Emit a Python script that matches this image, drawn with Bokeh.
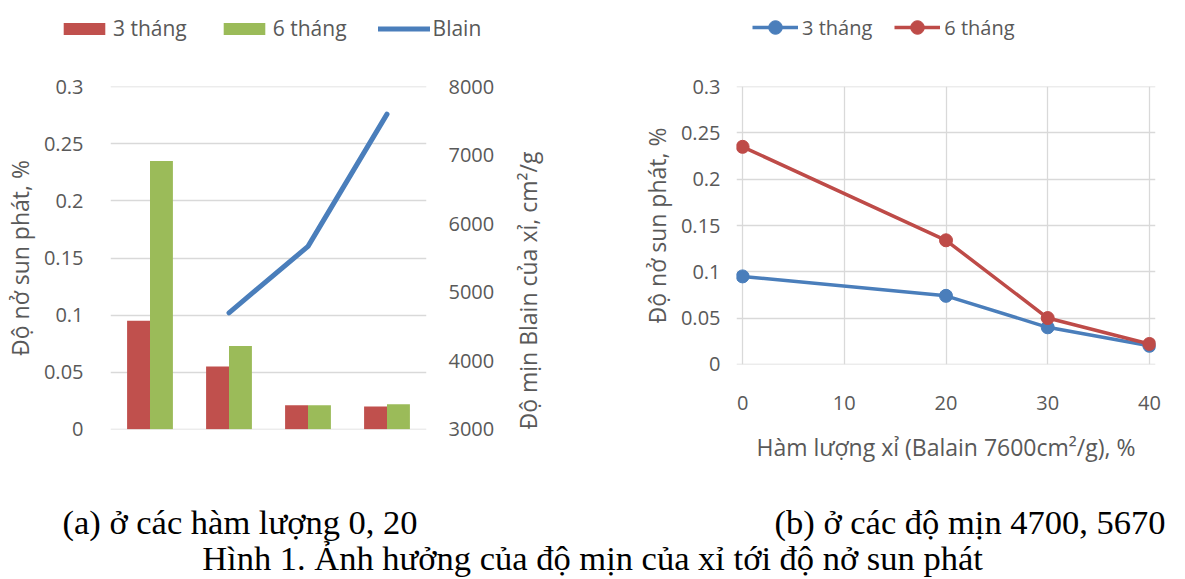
from math import pi
from bokeh.plotting import figure
from bokeh.models import (Range1d, LinearAxis, FixedTicker, CustomJSTickFormatter,
                          Legend, LegendItem, Label, ColumnDataSource)
from bokeh.layouts import column, row
from bokeh.embed import file_html
from bokeh.resources import INLINE
from bokeh.transform import dodge

# ---------------- data ----------------
group_pos = [1, 2, 3, 4]                     # four mixes in chart (a)
exp_3m_a = [0.095, 0.055, 0.021, 0.020]      # 3 tháng
exp_6m_a = [0.235, 0.073, 0.021, 0.022]      # 6 tháng
blain_pos = [2, 3, 4]
blain = [4700, 5670, 7600]                   # Blain, cm2/g

slag = [0, 20, 30, 40]                       # chart (b) x values
exp_3m_b = [0.095, 0.074, 0.040, 0.020]
exp_6m_b = [0.235, 0.134, 0.050, 0.022]

y_ticks = [0, 0.05, 0.1, 0.15, 0.2, 0.25, 0.3]
blain_ticks = [3000, 4000, 5000, 6000, 7000, 8000]
x_ticks_b = [0, 10, 20, 30, 40]

label_3m = "3 tháng"
label_6m = "6 tháng"
label_blain = "Blain"
y_title = "Độ nở sun phát, %"
y2_title = "Độ mịn Blain của xỉ, cm²/g"
x_title_b = "Hàm lượng xỉ (Balain 7600cm²/g), %"
cap_a = "(a) ở các hàm lượng 0, 20"
cap_b = "(b) ở các độ mịn 4700, 5670"
cap_fig = "Hình 1. Ảnh hưởng của độ mịn của xỉ tới độ nở sun phát"

# ---------------- style ----------------
FONT = "Open Sans"
FS = "20px"
FS_T = "23px"
GREY = "#595959"
GRID = "#d9d9d9"
RED = "#c0504d"
GREEN = "#9bbb59"
BLUE = "#4a7ebb"
RED2 = "#be4b48"
EPS = 0.0002  # tiny pad so edge grid lines are drawn
LH = 50       # height of the legend strip
CH = 80       # height of the caption strip

fmt = CustomJSTickFormatter(code="return String(Math.round(tick*100)/100);")


def style_axis(ax, standoff):
    ax.axis_line_color = None
    ax.major_tick_line_color = None
    ax.minor_tick_line_color = None
    ax.major_tick_out = 0
    ax.major_tick_in = 0
    ax.minor_tick_out = 0
    ax.minor_tick_in = 0
    ax.major_label_text_font = FONT
    ax.major_label_text_font_size = FS
    ax.major_label_text_color = GREY
    ax.major_label_standoff = standoff
    ax.axis_label_text_font = FONT
    ax.axis_label_text_font_size = FS_T
    ax.axis_label_text_color = GREY
    ax.axis_label_text_font_style = "normal"


def style_legend(leg, size):
    leg.label_text_font = FONT
    leg.label_text_font_size = size
    leg.label_text_color = GREY
    leg.padding = 0
    leg.margin = 0
    leg.border_line_color = None
    leg.background_fill_alpha = 0
    leg.orientation = "horizontal"


def bare(fig):
    fig.axis.visible = False
    fig.grid.visible = False
    fig.frame_align = False


# ---------------- chart (a) ----------------
pa = figure(width=598, height=498 - LH, x_range=Range1d(0.5, 4.5),
            y_range=Range1d(-EPS, 0.3 + EPS),
            output_backend="svg", toolbar_location=None,
            min_border_left=105, min_border_right=172, min_border_top=86 - LH,
            min_border_bottom=69, outline_line_color=None)
pa.frame_align = False
k = 5000 / 0.3
pa.extra_y_ranges = {"blain": Range1d(3000 - EPS * k, 8000 + EPS * k)}

src = ColumnDataSource(dict(x=group_pos, m3=exp_3m_a, m6=exp_6m_a))
pa.vbar(x=dodge("x", -0.145), top="m3", width=0.29, source=src,
        fill_color=RED, line_color=None)
pa.vbar(x=dodge("x", 0.145), top="m6", width=0.29, source=src,
        fill_color=GREEN, line_color=None)
pa.line(blain_pos, blain, y_range_name="blain", line_width=5, line_color=BLUE,
        line_cap="round", line_join="round")

pa.xaxis.visible = False
pa.xgrid.visible = False
pa.ygrid.ticker = FixedTicker(ticks=y_ticks)
pa.ygrid.grid_line_color = GRID
pa.ygrid.grid_line_width = 1.3

ya = pa.yaxis[0]
ya.ticker = FixedTicker(ticks=y_ticks)
ya.formatter = fmt
style_axis(ya, 27)
ya.axis_label = y_title
ya.axis_label_standoff = 5

ax2 = LinearAxis(y_range_name="blain", ticker=FixedTicker(ticks=blain_ticks))
style_axis(ax2, 22)
ax2.axis_label = y2_title
ax2.axis_label_standoff = 31
try:
    ax2.axis_label_orientation = pi / 2
except Exception:
    pass
try:
    ax2.axis_label_align = "start"
except Exception:
    pass
pa.add_layout(ax2, "right")

# ---------------- chart (b) ----------------
XPAD = 0.6
pb = figure(width=585, height=498 - LH, x_range=Range1d(-XPAD, 40 + XPAD),
            y_range=Range1d(-EPS, 0.3 + EPS),
            output_backend="svg", toolbar_location=None,
            min_border_left=138, min_border_right=28, min_border_top=86 - LH,
            min_border_bottom=134, outline_line_color=None)
pb.frame_align = False

pb.line(slag, exp_3m_b, line_width=3.5, line_color=BLUE)
pb.scatter(slag, exp_3m_b, size=13, fill_color=BLUE, line_color=BLUE)
pb.line(slag, exp_6m_b, line_width=3.5, line_color=RED2)
pb.scatter(slag, exp_6m_b, size=13, fill_color=RED2, line_color=RED2)

pb.xgrid.ticker = FixedTicker(ticks=x_ticks_b)
pb.ygrid.ticker = FixedTicker(ticks=y_ticks)
for g in (pb.xgrid[0], pb.ygrid[0]):
    g.grid_line_color = GRID
    g.grid_line_width = 1.3

xb = pb.xaxis[0]
xb.ticker = FixedTicker(ticks=x_ticks_b)
style_axis(xb, 31)
xb.axis_label = x_title_b
xb.axis_label_standoff = 18

yb = pb.yaxis[0]
yb.ticker = FixedTicker(ticks=y_ticks)
yb.formatter = fmt
style_axis(yb, 16)
yb.axis_label = y_title
yb.axis_label_standoff = 5

# ---------------- legend strip ----------------
# the key renderers hold the series' first points; the strip's ranges keep
# them out of view, so only the legend keys are seen
lf = figure(width=1183, height=LH, x_range=Range1d(-3, -2), y_range=Range1d(-3, -2),
            output_backend="svg", toolbar_location=None, min_border=0,
            outline_line_color=None)
bare(lf)
k1 = lf.vbar(x=group_pos[:1], top=exp_3m_a[:1], width=0.29, fill_color=RED, line_color=None)
k2 = lf.vbar(x=group_pos[:1], top=exp_6m_a[:1], width=0.29, fill_color=GREEN, line_color=None)
k3 = lf.line(x=blain_pos[:2], y=blain[:2], line_width=5, line_color=BLUE, line_cap="round")
k4 = lf.line(x=slag[:2], y=exp_3m_b[:2], line_width=3.5, line_color=BLUE)
k5 = lf.scatter(x=slag[:1], y=exp_3m_b[:1], size=13, fill_color=BLUE, line_color=BLUE)
k6 = lf.line(x=slag[:2], y=exp_6m_b[:2], line_width=3.5, line_color=RED2)
k7 = lf.scatter(x=slag[:1], y=exp_6m_b[:1], size=13, fill_color=RED2, line_color=RED2)

leg_a = Legend(items=[LegendItem(label=label_3m, renderers=[k1]),
                      LegendItem(label=label_6m, renderers=[k2]),
                      LegendItem(label=label_blain, renderers=[k3])],
               location=(58, 8), glyph_width=52, glyph_height=15,
               label_standoff=3, spacing=31)
style_legend(leg_a, "21px")
lf.add_layout(leg_a)

leg_b = Legend(items=[LegendItem(label=label_3m, renderers=[k4, k5]),
                      LegendItem(label=label_6m, renderers=[k6, k7])],
               location=(752, 6), glyph_width=46, glyph_height=34,
               label_standoff=4, spacing=22)
style_legend(leg_b, FS)
lf.add_layout(leg_b)

# ---------------- captions ----------------
pc = figure(width=1183, height=CH, x_range=Range1d(0, 1183), y_range=Range1d(0, CH),
            output_backend="svg", toolbar_location=None, min_border=0,
            outline_line_color=None)
bare(pc)
for txt, x, y, align in ((cap_a, 62, CH - 23, "left"), (cap_b, 1165, CH - 23, "right"),
                         (cap_fig, 592, CH - 59, "center")):
    pc.add_layout(Label(x=x, y=y, x_units="screen", y_units="screen", text=txt,
                        text_font="Liberation Serif", text_font_size="34.5px",
                        text_color="black", text_align=align, text_baseline="alphabetic"))

layout = column(lf, row(pa, pb), pc)
open("out.html", "w").write(file_html(layout, INLINE))
